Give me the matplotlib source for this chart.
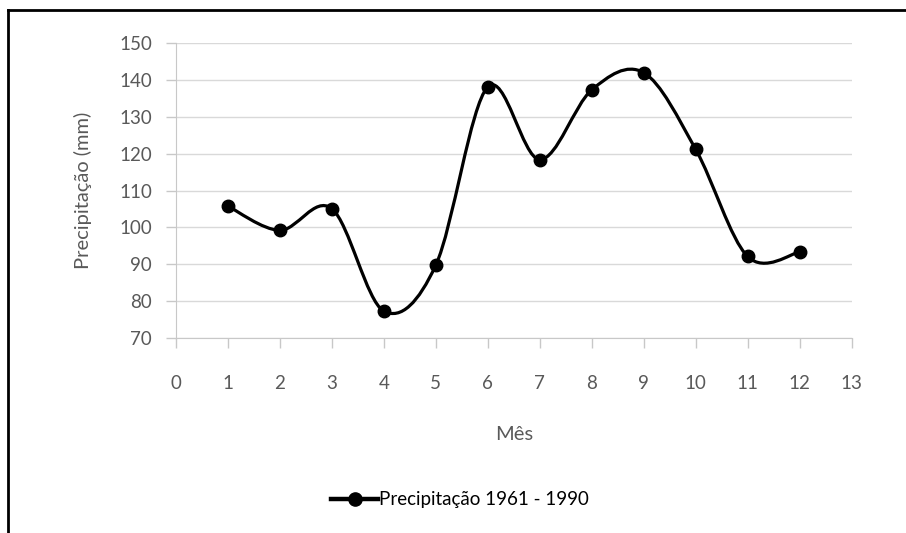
import numpy as np
import matplotlib.pyplot as plt
from matplotlib.path import Path
from matplotlib.patches import PathPatch
from matplotlib.lines import Line2D

months = [1, 2, 3, 4, 5, 6, 7, 8, 9, 10, 11, 12]
precip = [105.8, 99.2, 105.1, 77.3, 89.7, 138.1, 118.4, 137.3, 142.0, 121.2, 92.1, 93.3]
series_label = "Precipitação 1961 - 1990"

plt.rcParams['font.family'] = ['Lato', 'DejaVu Sans']
grey = "#595959"

fig = plt.figure(figsize=(9.06, 5.33), dpi=100)
ax = fig.add_axes([0.194, 0.366, 0.746, 0.553])


def smooth_path(xs, ys):
    # Excel-style smoothed line: cubic Bezier segments with Catmull-Rom control points
    pts = np.column_stack([xs, ys]).astype(float)
    n = len(pts)
    verts = [pts[0]]
    codes = [Path.MOVETO]
    for i in range(n - 1):
        p0 = pts[i - 1] if i > 0 else pts[i]
        p1 = pts[i]
        p2 = pts[i + 1]
        p3 = pts[i + 2] if i + 2 < n else pts[i + 1]
        c1 = p1 + (p2 - p0) / 6.0
        c2 = p2 - (p3 - p1) / 6.0
        verts += [c1, c2, p2]
        codes += [Path.CURVE4] * 3
    return Path(verts, codes)


ax.add_patch(PathPatch(smooth_path(months, precip), facecolor="none",
                       edgecolor="black", lw=2.3, zorder=3))
ax.plot(months, precip, "o", color="black", ms=9, zorder=4)

ax.set_xlim(0, 13)
ax.set_ylim(70, 150)
ax.set_xticks(range(0, 14))
ax.set_yticks(range(70, 151, 10))
ax.yaxis.grid(True, color="#d9d9d9", lw=1)
ax.set_axisbelow(True)
for s in ["top", "right"]:
    ax.spines[s].set_visible(False)
for s in ["left", "bottom"]:
    ax.spines[s].set_color("#c8c8c8")
ax.tick_params(colors=grey, labelsize=13.5, length=7, width=1)
ax.tick_params(axis="both", color="#c8c8c8")
ax.tick_params(axis="x", pad=20)
ax.tick_params(axis="y", pad=10)

ax.set_xlabel("Mês", color=grey, fontsize=14.5, labelpad=24)
ax.set_ylabel("Precipitação (mm)", color=grey, fontsize=14.5, labelpad=20)

handle = Line2D([], [], color="black", lw=3.2, marker="o", ms=9.5)
fig.legend([handle], [series_label], loc="center", bbox_to_anchor=(0.508, 0.062),
           frameon=False, fontsize=13.5, handlelength=2.5, handletextpad=0.05)

# chart border (top and left edges visible in the crop)
fig.add_artist(Line2D([8 / 906, 1], [1 - 10 / 533, 1 - 10 / 533],
                      transform=fig.transFigure, color="black", lw=2))
fig.add_artist(Line2D([8 / 906, 8 / 906], [0, 1 - 10 / 533],
                      transform=fig.transFigure, color="black", lw=2))

fig.savefig("out.png", dpi=100)
